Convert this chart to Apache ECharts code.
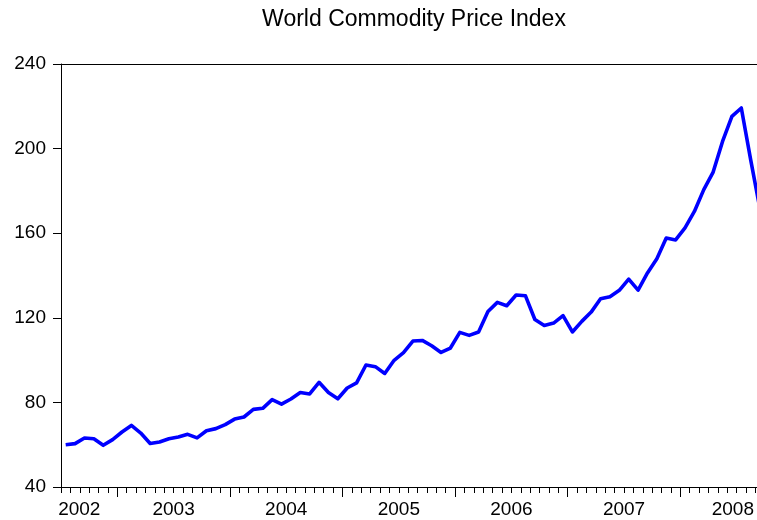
<!DOCTYPE html>
<html>
<head>
<meta charset="utf-8">
<script src="https://cdn.jsdelivr.net/npm/echarts@6/dist/echarts.min.js"></script>
<style>html,body{margin:0;padding:0;background:#fff}#c{width:757px;height:520px}</style>
</head>
<body>
<div id="c"></div>
<script>
// Monthly series, starting July 2002
var startYear = 2002;
var startMonth = 7;
var values = [
  60.0, 60.5, 63.2, 62.8, 59.7, 62.4, 66.0, 69.1, 65.5, 60.6, 61.3, 62.8,
  63.6, 64.9, 63.2, 66.6, 67.6, 69.5, 72.1, 73.1, 76.7, 77.2, 81.3, 79.2,
  81.6, 84.7, 84.0, 89.5, 84.7, 81.7, 86.8, 89.2, 97.7, 96.9, 93.7, 99.9,
  103.5, 109.0, 109.3, 106.8, 103.6, 105.7, 113.1, 111.7, 113.3, 123.0, 127.3, 125.7,
  130.8, 130.4, 119.2, 116.4, 117.5, 121.0, 113.3, 118.3, 122.7, 129.0, 130.0, 133.0,
  138.3, 133.1, 141.2, 147.9, 157.7, 156.8, 162.5, 170.3, 180.6, 188.9, 203.4, 215.2,
  219.2, 194.7, 171.2
];
var yearLabels = ['2002', '2003', '2004', '2005', '2006', '2007', '2008'];
var yTicks = [40, 80, 120, 160, 200, 240];

var FONT = 'Liberation Sans, Arial, sans-serif';
var xMax = 74.17;
var monthOffset = 13 - startMonth; // months until first January
var seriesData = values.map(function (v, i) { return [i + 0.5, v]; });
var majorTicks = [];
for (var k = 0; monthOffset + 12 * k <= xMax; k++) majorTicks.push(monthOffset + 12 * k);
var minorTicks = [];
for (var m = 0; m <= Math.floor(xMax); m++) minorTicks.push(m);
var labelPos = yearLabels.map(function (y, i) {
  var p = i * 12;
  if (i === 0) p = 1.95;
  if (i === yearLabels.length - 1) p = 71.6;
  return p;
});

var chart = echarts.init(document.getElementById('c'), null, {renderer: 'canvas'});
chart.setOption({
  animation: false,
  backgroundColor: '#ffffff',
  title: {
    text: 'World Commodity Price Index',
    left: 409, top: 3, textAlign: 'center',
    textStyle: {fontFamily: FONT, fontSize: 23, fontWeight: 'normal', color: '#000'}
  },
  grid: {left: 61, right: 0, top: 64, bottom: 33, containLabel: false},
  xAxis: [
    {
      type: 'value', position: 'bottom', min: 0, max: xMax,
      axisLine: {show: true, lineStyle: {color: '#000', width: 1}},
      axisTick: {show: true, customValues: majorTicks, length: 10, lineStyle: {color: '#000'}},
      axisLabel: {
        show: true, customValues: labelPos, margin: 13,
        fontFamily: FONT, fontSize: 19, color: '#000',
        formatter: function (v) { return yearLabels[Math.round(v / 12)]; }
      },
      splitLine: {show: false}
    },
    {
      type: 'value', position: 'bottom', min: 0, max: xMax,
      axisLine: {show: false},
      axisTick: {show: true, customValues: minorTicks, length: 6, lineStyle: {color: '#000', width: 1}},
      axisLabel: {show: false},
      splitLine: {show: false}
    },
    {
      type: 'value', position: 'top', min: 0, max: xMax,
      axisLine: {show: true, lineStyle: {color: '#000', width: 1}},
      axisTick: {show: false},
      axisLabel: {show: false},
      splitLine: {show: false}
    }
  ],
  yAxis: {
    type: 'value', min: yTicks[0], max: yTicks[yTicks.length - 1], interval: 40,
    axisLine: {show: true, lineStyle: {color: '#000', width: 1}},
    axisTick: {show: true, length: 8, lineStyle: {color: '#000'}},
    axisLabel: {margin: 15, fontFamily: FONT, fontSize: 19, color: '#000'},
    splitLine: {show: false}
  },
  series: [{
    type: 'line', xAxisIndex: 0, data: seriesData,
    showSymbol: false, symbol: 'none', clip: true,
    lineStyle: {color: '#0000ff', width: 3.6, join: 'round', cap: 'butt'}
  }]
});
</script>
</body>
</html>
